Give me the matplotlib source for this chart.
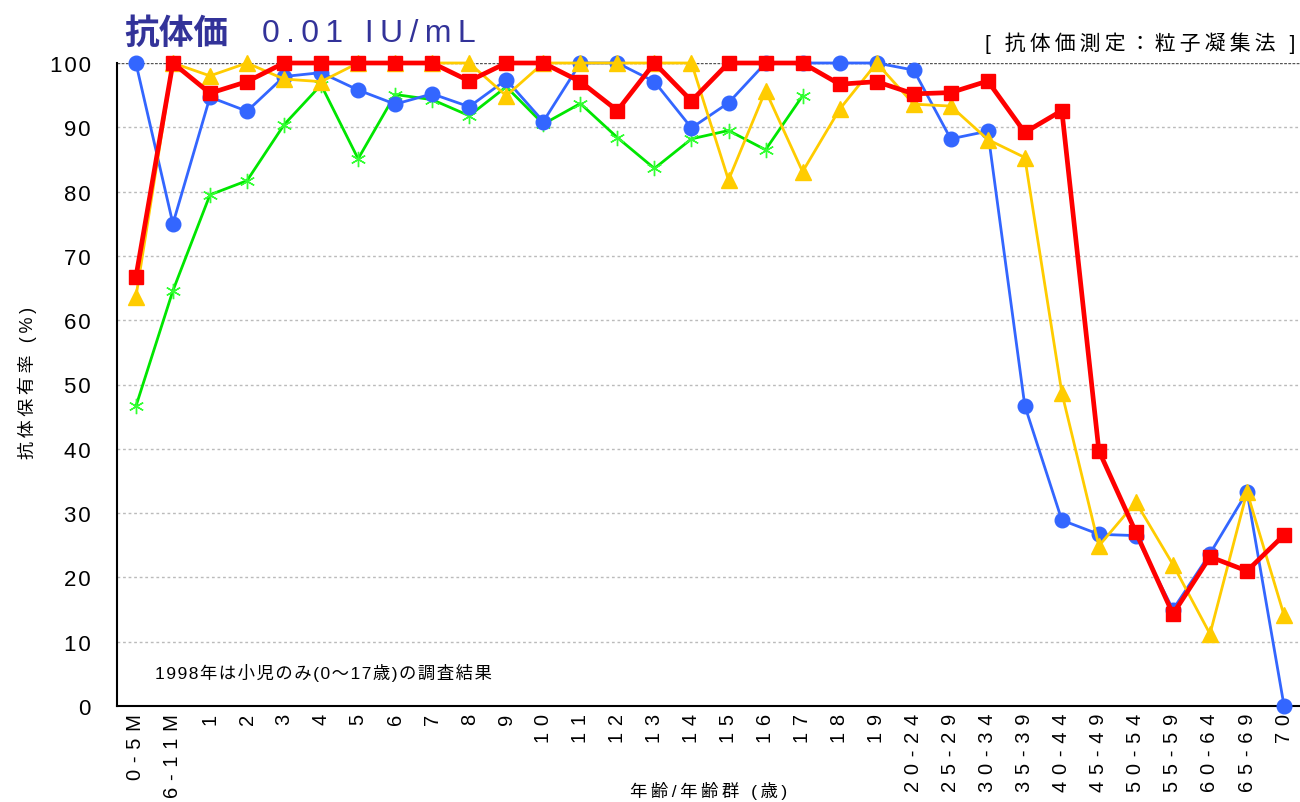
import matplotlib
matplotlib.use("Agg")
import matplotlib.pyplot as plt
import numpy as np

categories = ["0-5M", "6-11M", "1", "2", "3", "4", "5", "6", "7", "8", "9", "10",
              "11", "12", "13", "14", "15", "16", "17", "18", "19",
              "20-24", "25-29", "30-34", "35-39", "40-44", "45-49",
              "50-54", "55-59", "60-64", "65-69", "70"]

blue_vals = [100, 75.0, 94.7, 92.5, 97.9, 98.5, 95.8, 93.6, 95.2, 93.2, 97.4, 90.9,
             100, 100, 97.1, 89.9, 93.8, 100, 100, 100, 100,
             98.9, 88.2, 89.4, 46.7, 28.9, 26.7, 26.5, 15.0, 23.7, 33.3, 0]
yellow_vals = [63.6, 100, 98.0, 100, 97.5, 97.1, 100, 100, 100, 100, 94.9, 100,
               100, 100, 100, 100, 81.8, 95.7, 83.1, 92.8, 100,
               93.6, 93.3, 88.1, 85.3, 48.7, 24.9, 31.7, 22.0, 11.2, 33.3, 14.1]
red_vals = [66.7, 100, 95.3, 97.1, 100, 100, 100, 100, 100, 97.2, 100, 100,
            97.1, 92.6, 100, 94.1, 100, 100, 100, 96.7, 97.1,
            95.2, 95.4, 97.2, 89.2, 92.6, 39.7, 27.0, 14.3, 23.2, 21.0, 26.6]
green_vals = [46.6, 64.6, 79.5, 81.7, 90.4, 96.6, 85.1, 95.1, 94.3, 91.8, 96.3, 90.5,
              93.7, 88.4, 83.6, 88.2, 89.5, 86.5, 94.9]

yticks = [0, 10, 20, 30, 40, 50, 60, 70, 80, 90, 100]

FAM = ["Liberation Sans", "Noto Sans CJK JP", "DejaVu Sans"]
plt.rcParams["font.family"] = FAM


def sp(s, gap="\u2009"):
    """Letter-spaced rendering of a label (the source chart uses wide tracking)."""
    return gap.join(s)


fig = plt.figure(figsize=(13, 8.03), dpi=100)
ax = fig.add_axes([117 / 1300, 96 / 803, 1183 / 1300, 643 / 803])

x = np.arange(len(categories))
xg = np.arange(len(green_vals))

ax.plot(xg, green_vals, color="#00e600", lw=2.0, marker=(6, 2, 0), ms=11,
        mec="#33ff33", mew=1.0, zorder=3, clip_on=False)
ax.plot(x, blue_vals, color="#3366ff", lw=2.0, marker="o", ms=10.5,
        mfc="#3366ff", mec="#3366ff", zorder=4, clip_on=False)
ax.plot(x, yellow_vals, color="#ffcc00", lw=2.0, marker="^", ms=11,
        mfc="#ffcc00", mec="#ffcc00", zorder=5, clip_on=False)
ax.plot(x, red_vals, color="#ff0000", lw=3.4, marker="s", ms=10,
        mfc="#ff0000", mec="#ff0000", zorder=6, clip_on=False)

ax.set_xlim(-0.51, len(categories) - 1 + 0.43)
ax.set_ylim(0, 100)
ax.set_yticks(yticks)
ax.set_yticklabels([sp(str(v), "\u200a") for v in yticks], fontsize=16)
ax.set_xticks(x)
ax.set_xticklabels([sp(c, "\u2004") for c in categories], rotation=90, fontsize=14.5)
ax.tick_params(axis="y", length=0, pad=19)
ax.tick_params(axis="x", length=0, pad=5)

for v in yticks[1:-1]:
    ax.axhline(v, color="#bbbbbb", lw=1.0, ls=(0, (2, 2)), zorder=1)
ax.axhline(100, color="#555555", lw=1.0, ls=(0, (2, 1)), zorder=1)

for s in ["top", "right"]:
    ax.spines[s].set_visible(False)
ax.spines["left"].set_linewidth(1.5)
ax.spines["bottom"].set_linewidth(1.5)
ax.spines["left"].set_zorder(2)

fig.text(27 / 1300, 1 - 383 / 803, sp("抗体保有率 (%)"), rotation=90, ha="center",
         va="center", fontsize=13)
fig.text(709 / 1300, 1 - 791 / 803, sp("年齢/年齢群 (歳)"), ha="center", va="center",
         fontsize=12.5)

fig.text(124 / 1300, 1 - 33 / 803, "抗体価", ha="left", va="center", fontsize=25,
         fontweight="bold", color="#333399", family=["Noto Sans CJK JP"])
fig.text(262 / 1300, 1 - 34 / 803, sp("0.01 IU/mL"), ha="left", va="center",
         fontsize=23, color="#333399")
fig.text(1295 / 1300, 1 - 43 / 803, sp("[ 抗体価測定：粒子凝集法 ]"), ha="right",
         va="center", fontsize=15)

fig.text(155 / 1300, 1 - 673 / 803, sp("1998年は小児のみ(0～17歳)の調査結果", "\u200a"),
         ha="left", va="center", fontsize=12.5)

fig.savefig("out.png", dpi=100)
